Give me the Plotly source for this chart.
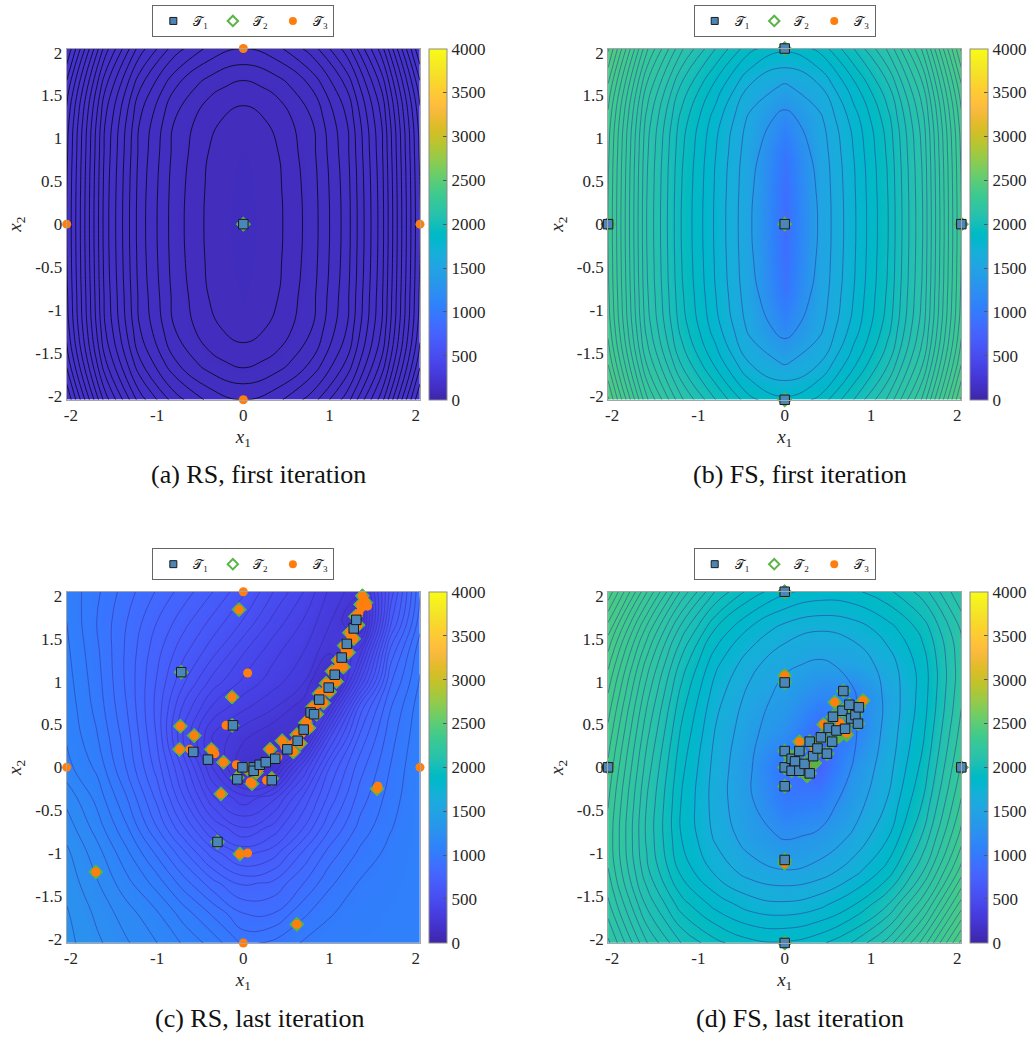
import plotly.graph_objects as go

# ---------------- data ----------------
# grid nodes (x1 and x2) for panels a, b, d
NODES11 = [-2.048, -1.6, -1.2, -0.8, -0.4, 0.0, 0.4, 0.8, 1.2, 1.6, 2.048]
# grid nodes for panel c
NODES13 = [-2.048, -1.7, -1.35, -1.0, -0.7, -0.35, 0.0, 0.35, 0.7, 1.0, 1.35, 1.7, 2.048]

# (a) RS first iteration: surface values (rows = x2 ascending, cols = x1 ascending)
Z_A = [
    [202, 168, 148, 136, 129, 126, 129, 136, 148, 168, 202],
    [192.4, 158.4, 138.4, 126.4, 119.4, 116.4, 119.4, 126.4, 138.4, 158.4, 192.4],
    [188, 154, 134, 122, 115, 112, 115, 122, 134, 154, 188],
    [186.8, 152.8, 132.8, 120.8, 113.8, 110.8, 113.8, 120.8, 132.8, 152.8, 186.8],
    [186.2, 152.2, 132.2, 120.2, 113.2, 110.2, 113.2, 120.2, 132.2, 152.2, 186.2],
    [186, 152, 132, 120, 113, 110, 113, 120, 132, 152, 186],
    [186.2, 152.2, 132.2, 120.2, 113.2, 110.2, 113.2, 120.2, 132.2, 152.2, 186.2],
    [186.8, 152.8, 132.8, 120.8, 113.8, 110.8, 113.8, 120.8, 132.8, 152.8, 186.8],
    [188, 154, 134, 122, 115, 112, 115, 122, 134, 154, 188],
    [192.4, 158.4, 138.4, 126.4, 119.4, 116.4, 119.4, 126.4, 138.4, 158.4, 192.4],
    [202, 168, 148, 136, 129, 126, 129, 136, 148, 168, 202],
]

# (b) FS first iteration: colour field and contour field
C_B = [
    [2450, 2280, 2150, 2000, 1920, 1870, 1920, 2000, 2150, 2280, 2450],
    [2380, 2200, 2050, 1850, 1650, 1500, 1650, 1850, 2050, 2200, 2380],
    [2350, 2150, 1980, 1800, 1550, 1150, 1550, 1800, 1980, 2150, 2350],
    [2340, 2150, 1970, 1780, 1500, 950, 1500, 1780, 1970, 2150, 2340],
    [2330, 2150, 1960, 1770, 1500, 880, 1500, 1770, 1960, 2150, 2330],
    [2330, 2150, 1960, 1770, 1500, 850, 1500, 1770, 1960, 2150, 2330],
    [2330, 2150, 1960, 1770, 1500, 880, 1500, 1770, 1960, 2150, 2330],
    [2340, 2150, 1970, 1780, 1500, 950, 1500, 1780, 1970, 2150, 2340],
    [2350, 2150, 1980, 1800, 1550, 1150, 1550, 1800, 1980, 2150, 2350],
    [2380, 2200, 2050, 1850, 1650, 1500, 1650, 1850, 2050, 2200, 2380],
    [2450, 2280, 2150, 2000, 1920, 1870, 1920, 2000, 2150, 2280, 2450],
]
L_B = [
    [25.2, 16.2, 11.2, 8.0, 5.25, 4.2, 5.25, 8.0, 11.2, 16.2, 25.2],
    [22.8, 13.8, 8.8, 5.6, 2.85, 1.8, 2.85, 5.6, 8.8, 13.8, 22.8],
    [21.6, 12.6, 7.6, 4.4, 1.65, 0.6, 1.65, 4.4, 7.6, 12.6, 21.6],
    [21.2, 12.2, 7.2, 4.0, 1.25, 0.2, 1.25, 4.0, 7.2, 12.2, 21.2],
    [21.05, 12.05, 7.05, 3.85, 1.1, 0.05, 1.1, 3.85, 7.05, 12.05, 21.05],
    [21.0, 12.0, 7.0, 3.8, 1.05, 0.0, 1.05, 3.8, 7.0, 12.0, 21.0],
    [21.05, 12.05, 7.05, 3.85, 1.1, 0.05, 1.1, 3.85, 7.05, 12.05, 21.05],
    [21.2, 12.2, 7.2, 4.0, 1.25, 0.2, 1.25, 4.0, 7.2, 12.2, 21.2],
    [21.6, 12.6, 7.6, 4.4, 1.65, 0.6, 1.65, 4.4, 7.6, 12.6, 21.6],
    [22.8, 13.8, 8.8, 5.6, 2.85, 1.8, 2.85, 5.6, 8.8, 13.8, 22.8],
    [25.2, 16.2, 11.2, 8.0, 5.25, 4.2, 5.25, 8.0, 11.2, 16.2, 25.2],
]

# (c) RS last iteration: surface values (13 x 13)
Z_C = [
    [1300, 1250, 1200, 1150, 1100, 1040, 960, 980, 1020, 1040, 1050, 1050, 1060],
    [1290, 1230, 1170, 1110, 1040, 960, 880, 880, 960, 1010, 1040, 1050, 1060],
    [1270, 1200, 1120, 1040, 950, 850, 780, 800, 880, 960, 1020, 1040, 1060],
    [1250, 1170, 1070, 960, 850, 720, 640, 680, 800, 900, 980, 1030, 1060],
    [1220, 1130, 1020, 880, 750, 600, 520, 580, 700, 830, 940, 1010, 1060],
    [1180, 1090, 970, 820, 660, 480, 400, 460, 620, 760, 900, 990, 1060],
    [1120, 1050, 920, 770, 600, 380, 200, 200, 480, 700, 860, 970, 1060],
    [1100, 1020, 900, 740, 520, 330, 260, 200, 220, 560, 800, 950, 1050],
    [1090, 1000, 880, 730, 560, 420, 350, 300, 220, 330, 720, 920, 1040],
    [1080, 990, 870, 740, 620, 500, 420, 360, 300, 120, 520, 870, 1020],
    [1070, 980, 870, 760, 670, 580, 480, 400, 340, 260, 360, 800, 1000],
    [1060, 970, 880, 790, 720, 640, 560, 460, 380, 300, 180, 680, 950],
    [1050, 980, 900, 830, 770, 700, 620, 520, 430, 330, 260, 620, 920],
]

# (d) FS last iteration: colour field and contour field
C_D = [
    [2180, 2100, 2020, 1950, 1900, 1870, 1900, 1980, 2120, 2280, 2420],
    [2200, 2080, 1950, 1830, 1740, 1700, 1760, 1880, 2050, 2230, 2400],
    [2240, 2080, 1900, 1720, 1580, 1500, 1560, 1700, 1900, 2150, 2380],
    [2280, 2100, 1880, 1650, 1420, 1250, 1350, 1560, 1800, 2080, 2350],
    [2310, 2120, 1880, 1620, 1380, 1000, 1050, 1420, 1700, 2000, 2320],
    [2340, 2150, 1900, 1640, 1350, 900, 750, 1300, 1650, 1950, 2300],
    [2360, 2170, 1930, 1680, 1430, 1250, 800, 1050, 1580, 1900, 2260],
    [2370, 2200, 1970, 1720, 1530, 1400, 1150, 1050, 1500, 1850, 2220],
    [2390, 2230, 2020, 1800, 1650, 1550, 1450, 1500, 1650, 1880, 2200],
    [2400, 2260, 2080, 1920, 1790, 1700, 1680, 1720, 1830, 1960, 2170],
    [2420, 2300, 2150, 2020, 1920, 1860, 1840, 1870, 1950, 2050, 2150],
]
L_D = [
    [18.26, 13.06, 9.99, 8.28, 7.29, 7.11, 7.72, 9.11, 11.44, 15.34, 21.33],
    [16.27, 10.80, 7.46, 5.63, 4.51, 4.19, 4.67, 5.94, 8.00, 11.65, 17.47],
    [15.02, 9.25, 5.68, 3.70, 2.46, 2.02, 2.38, 3.54, 5.41, 8.83, 14.42],
    [14.72, 8.80, 5.00, 2.78, 1.44, 0.88, 1.12, 2.16, 3.92, 7.10, 12.40],
    [15.07, 9.00, 4.98, 2.52, 1.07, 0.39, 0.51, 1.43, 3.09, 6.03, 11.10],
    [15.77, 9.55, 5.30, 2.60, 1.05, 0.25, 0.25, 1.05, 2.60, 5.30, 10.15],
    [16.67, 10.30, 5.83, 2.89, 1.23, 0.31, 0.19, 0.87, 2.32, 4.78, 9.40],
    [17.77, 11.25, 6.55, 3.37, 1.61, 0.57, 0.33, 0.89, 2.23, 4.45, 8.85],
    [19.22, 12.55, 7.63, 4.21, 2.34, 1.18, 0.82, 1.26, 2.50, 4.48, 8.65],
    [21.32, 14.60, 9.50, 5.85, 3.79, 2.52, 2.04, 2.36, 3.48, 5.31, 9.10],
    [24.80, 18.07, 12.81, 8.91, 6.58, 5.19, 4.58, 4.76, 5.75, 7.46, 10.95],
]

# sample sets T1, T2, T3 for each panel (x1, x2)
T1_A = [(0, 0)]
T2_A = [(0, 0)]
T3_A = [(0, 0), (-2.048, 0), (2.048, 0), (0, -2.048), (0, 2.048)]

T1_B = [(0, 0), (-2.048, 0), (2.048, 0), (0, -2.048), (0, 2.048)]
T2_B = [(0, 0), (-2.048, 0), (2.048, 0), (0, -2.048), (0, 2.048)]
T3_B = [(0, 0), (-2.048, 0), (2.048, 0), (0, -2.048), (0, 2.048)]

T1_C = [(-0.72, 1.11), (-0.12, 0.49), (-0.58, 0.18), (-0.41, 0.09), (-0.07, -0.14),
        (-0.01, 0.0), (0.12, 0.0), (0.12, -0.04), (0.19, 0.03), (0.26, 0.06),
        (0.37, 0.10), (0.33, -0.15), (0.51, 0.21), (0.63, 0.31), (0.70, 0.44),
        (0.78, 0.64), (0.82, 0.62), (0.88, 0.79), (0.99, 0.93), (1.06, 1.08),
        (1.14, 1.28), (1.20, 1.44), (1.28, 1.62), (1.31, 1.72), (-0.30, -0.87)]
T2_C = [(-0.05, 1.84), (-0.13, 0.82), (-0.73, 0.48), (-0.57, 0.37), (-0.74, 0.21),
        (-0.37, 0.21), (-0.23, 0.06), (-0.26, -0.31), (1.55, -0.25), (-0.04, -1.01),
        (-1.71, -1.22), (0.62, -1.83), (-0.72, 1.11), (-0.30, -0.87), (-0.13, 0.49),
        (-0.07, -0.12), (0.05, -0.02), (0.15, -0.06), (0.33, -0.13), (0.10, -0.19),
        (0.31, 0.21), (0.45, 0.31), (0.58, 0.18), (0.62, 0.38), (0.66, 0.28),
        (0.72, 0.52), (0.76, 0.46), (0.80, 0.70), (0.85, 0.62), (0.88, 0.86),
        (0.93, 0.75), (0.96, 0.98), (1.00, 0.88), (1.03, 1.12), (1.08, 1.00),
        (1.10, 1.25), (1.16, 1.17), (1.17, 1.42), (1.22, 1.34), (1.23, 1.57),
        (1.28, 1.50), (1.30, 1.76), (1.33, 1.66), (1.36, 1.90), (1.38, 2.00),
        (1.42, 1.92)]
T3_C = T2_C + [(0, 2.048), (0.05, 1.10), (-2.048, 0), (2.048, 0), (0, -2.048),
               (-0.20, 0.49), (0.05, -1.00), (-0.62, 0.21), (-0.33, 0.16), (-0.08, 0.03),
               (0.08, -0.17), (0.27, -0.15), (1.56, -0.22), (0.20, 0.0), (0.40, 0.12),
               (0.48, 0.24), (0.55, 0.26), (0.60, 0.30), (0.68, 0.40), (0.74, 0.55),
               (0.82, 0.68), (0.86, 0.74), (0.90, 0.82), (0.95, 0.90), (1.00, 0.98),
               (1.05, 1.06), (1.09, 1.16), (1.13, 1.24), (1.18, 1.36), (1.21, 1.44),
               (1.25, 1.52), (1.27, 1.60), (1.31, 1.68), (1.34, 1.80), (1.37, 1.86),
               (1.40, 1.96), (1.44, 1.88)]

T1_D = [(0, 2.048), (0, 0.99), (0, -1.08), (0, -2.048), (-2.048, 0), (2.048, 0),
        (0, -0.22), (0, 0.19), (0, 0), (0.08, 0.10), (0.12, 0.07), (0.17, 0.19),
        (0.08, -0.04), (0.17, -0.04), (0.23, 0.04), (0.29, -0.07), (0.29, 0.30),
        (0.33, 0.13), (0.38, 0.22), (0.42, 0.35), (0.49, 0.16), (0.51, 0.46),
        (0.55, 0.30), (0.56, 0.59), (0.60, 0.43), (0.67, 0.66), (0.68, 0.89),
        (0.70, 0.45), (0.75, 0.73), (0.77, 0.57), (0.82, 0.61), (0.85, 0.51),
        (0.86, 0.70)]
T2_D = T1_D + [(0, 1.07), (0.17, 0.30), (0.58, 0.76), (0.45, 0.50), (0.91, 0.78),
               (0.26, -0.10), (0.35, 0.05), (0.63, 0.36), (0.72, 0.38), (0, -1.12)]
T3_D = T1_D + [(0, 1.07), (0.17, 0.30), (0.58, 0.76), (0.45, 0.50), (0.91, 0.78),
               (0.35, 0.20), (0.25, 0.02), (0.12, -0.02), (0.64, 0.52), (0.72, 0.40),
               (0.82, 0.55), (0, -1.12)]

X_TICKS = [-2, -1, 0, 1, 2]
X_TICKTEXT = ["-2", "-1", "0", "1", "2"]
Y_TICKS = [-2, -1.5, -1, -0.5, 0, 0.5, 1, 1.5, 2]
Y_TICKTEXT = ["-2", "-1.5", "-1", "-0.5", "0", "0.5", "1", "1.5", "2"]
CB_TICKS = [0, 500, 1000, 1500, 2000, 2500, 3000, 3500, 4000]
CAPTIONS = ["(a) RS, first iteration", "(b) FS, first iteration",
            "(c) RS, last iteration", "(d) FS, last iteration"]
SET_NAMES = ["𝒯<sub>1</sub>", "𝒯<sub>2</sub>", "𝒯<sub>3</sub>"]

# ---------------- style ----------------
PARULA = [
    (0.2422, 0.1504, 0.6603), (0.2504, 0.1650, 0.7076), (0.2578, 0.1818, 0.7511),
    (0.2647, 0.1978, 0.7952), (0.2706, 0.2147, 0.8364), (0.2751, 0.2342, 0.8710),
    (0.2783, 0.2559, 0.8991), (0.2803, 0.2782, 0.9221), (0.2813, 0.3006, 0.9414),
    (0.2810, 0.3228, 0.9579), (0.2795, 0.3447, 0.9717), (0.2760, 0.3667, 0.9829),
    (0.2699, 0.3892, 0.9906), (0.2602, 0.4123, 0.9952), (0.2440, 0.4358, 0.9988),
    (0.2206, 0.4603, 0.9973), (0.1963, 0.4847, 0.9892), (0.1834, 0.5074, 0.9798),
    (0.1786, 0.5289, 0.9682), (0.1764, 0.5499, 0.9520), (0.1687, 0.5703, 0.9359),
    (0.1540, 0.5902, 0.9218), (0.1460, 0.6091, 0.9079), (0.1380, 0.6276, 0.8973),
    (0.1248, 0.6459, 0.8883), (0.1113, 0.6635, 0.8763), (0.0952, 0.6798, 0.8598),
    (0.0689, 0.6948, 0.8394), (0.0297, 0.7082, 0.8163), (0.0036, 0.7203, 0.7917),
    (0.0067, 0.7312, 0.7660), (0.0433, 0.7411, 0.7394), (0.0964, 0.7500, 0.7120),
    (0.1408, 0.7584, 0.6842), (0.1717, 0.7670, 0.6554), (0.1938, 0.7758, 0.6251),
    (0.2161, 0.7843, 0.5923), (0.2470, 0.7918, 0.5567), (0.2906, 0.7973, 0.5188),
    (0.3406, 0.8008, 0.4789), (0.3909, 0.8029, 0.4354), (0.4456, 0.8024, 0.3909),
    (0.5044, 0.7993, 0.3480), (0.5616, 0.7942, 0.3045), (0.6174, 0.7876, 0.2612),
    (0.6720, 0.7793, 0.2227), (0.7242, 0.7698, 0.1910), (0.7738, 0.7598, 0.1646),
    (0.8203, 0.7498, 0.1535), (0.8634, 0.7406, 0.1596), (0.9035, 0.7330, 0.1774),
    (0.9393, 0.7288, 0.2100), (0.9728, 0.7298, 0.2394), (0.9956, 0.7434, 0.2371),
    (0.9970, 0.7659, 0.2199), (0.9952, 0.7893, 0.2028), (0.9892, 0.8136, 0.1885),
    (0.9786, 0.8386, 0.1766), (0.9676, 0.8639, 0.1643), (0.9610, 0.8890, 0.1537),
    (0.9597, 0.9135, 0.1423), (0.9628, 0.9373, 0.1265), (0.9691, 0.9606, 0.1060),
    (0.9769, 0.9839, 0.0805),
]
COLORSCALE = [[i / (len(PARULA) - 1),
               "rgb(%d,%d,%d)" % (round(r * 255), round(g * 255), round(b * 255))]
              for i, (r, g, b) in enumerate(PARULA)]

SERIF = "Liberation Serif, DejaVu Serif, serif"
W, H = 1032, 1040
C_SQ = "#4A86B8"
C_DI = "#5AB346"
C_OR = "#FF7F0E"
LINE_SOFT = "rgba(55,35,150,0.6)"
LINE_DARK = "rgba(0,0,0,0.9)"

# panel boxes in pixels: left, right, top, bottom
PANELS = [(64, 419, 44, 399), (608, 963, 44, 399),
          (64, 419, 593, 948), (608, 963, 593, 948)]
CB_LEFT = [428, 972, 428, 972]
LEGEND_TOP = [0, 0, 549, 549]
CAPTION_POS = [(257, 475), (801, 475), (258, 1024), (801, 1024)]

fig = go.Figure()


def axes_ids(k):
    return ("x" if k == 0 else "x%d" % (k + 1)), ("y" if k == 0 else "y%d" % (k + 1))


def colorbar(k):
    l, r, t, b = PANELS[k]
    return dict(x=CB_LEFT[k] / W, xanchor="left", y=1 - (t + b) / 2 / H, yanchor="middle",
                len=(b - t) / H, lenmode="fraction", thickness=18,
                outlinewidth=1, outlinecolor="#8c8c8c", tickvals=CB_TICKS,
                ticks="inside", ticklen=4, tickcolor="#555555",
                tickfont=dict(family=SERIF, size=17, color="#262626"), xpad=0, ypad=0)


def add_field(k, nodes, zcol, zlin, start, end, size, lcolor):
    xa, ya = axes_ids(k)
    fig.add_trace(go.Heatmap(x=nodes, y=nodes, z=zcol, colorscale=COLORSCALE, zmin=0,
                             zmax=4000, zsmooth="best", colorbar=colorbar(k),
                             hoverinfo="skip", showlegend=False, xaxis=xa, yaxis=ya))
    fig.add_trace(go.Contour(x=nodes, y=nodes, z=zlin, autocontour=False,
                             contours=dict(start=start, end=end, size=size, coloring="none"),
                             line=dict(color=lcolor, width=0.8, smoothing=1.3),
                             showscale=False, showlegend=False, hoverinfo="skip",
                             xaxis=xa, yaxis=ya))


def add_samples(k, t1, t2, t3):
    xa, ya = axes_ids(k)
    fig.add_trace(go.Scatter(x=[p[0] for p in t2], y=[p[1] for p in t2], mode="markers",
                             marker=dict(symbol="diamond", size=11, color=C_DI,
                                         line=dict(color=C_DI, width=1)),
                             xaxis=xa, yaxis=ya, showlegend=False, hoverinfo="skip",
                             cliponaxis=False))
    fig.add_trace(go.Scatter(x=[p[0] for p in t3], y=[p[1] for p in t3], mode="markers",
                             marker=dict(symbol="circle", size=9, color=C_OR,
                                         line=dict(width=0)),
                             xaxis=xa, yaxis=ya, showlegend=False, hoverinfo="skip",
                             cliponaxis=False))
    fig.add_trace(go.Scatter(x=[p[0] for p in t1], y=[p[1] for p in t1], mode="markers",
                             marker=dict(symbol="square", size=9.5, color=C_SQ,
                                         line=dict(color="#1a1a1a", width=1)),
                             xaxis=xa, yaxis=ya, showlegend=False, hoverinfo="skip",
                             cliponaxis=False))
    lg = "legend" if k == 0 else "legend%d" % (k + 1)
    styles = [dict(symbol="square", size=7, color=C_SQ, line=dict(color="#1a1a1a", width=1)),
              dict(symbol="diamond", size=8, color="white", line=dict(color=C_DI, width=2)),
              dict(symbol="circle", size=8, color=C_OR, line=dict(width=0))]
    for name, st in zip(SET_NAMES, styles):
        fig.add_trace(go.Scatter(x=[None], y=[None], mode="markers", marker=st, name=name,
                                 xaxis=xa, yaxis=ya, legend=lg, showlegend=True))


add_field(0, NODES11, Z_A, Z_A, 114, 202, 4, LINE_DARK)
add_samples(0, T1_A, T2_A, T3_A)
add_field(1, NODES11, C_B, L_B, 1, 25, 1, LINE_SOFT)
add_samples(1, T1_B, T2_B, T3_B)
add_field(2, NODES13, Z_C, Z_C, 250, 1300, 45, LINE_SOFT)
add_samples(2, T1_C, T2_C, T3_C)
add_field(3, NODES11, C_D, L_D, 1, 25, 1, LINE_SOFT)
add_samples(3, T1_D, T2_D, T3_D)

layout = dict(width=W, height=H, margin=dict(l=0, r=0, t=0, b=0),
              paper_bgcolor="white", plot_bgcolor="white", showlegend=True,
              font=dict(family=SERIF, color="#262626"))
tickfont = dict(family=SERIF, size=17, color="#262626")
titlefont = dict(family=SERIF, size=19, color="#262626")
for k, (l, r, t, b) in enumerate(PANELS):
    xa, ya = axes_ids(k)
    xkey = "xaxis" if k == 0 else "xaxis%d" % (k + 1)
    ykey = "yaxis" if k == 0 else "yaxis%d" % (k + 1)
    layout[xkey] = dict(domain=[l / W, r / W], range=[-2.048, 2.048], anchor=ya,
                        tickvals=X_TICKS, ticktext=X_TICKTEXT, ticks="", showgrid=False,
                        zeroline=False, showline=True, mirror=True, linecolor="#a6a6a6",
                        linewidth=1, tickfont=tickfont,
                        title=dict(text="<i>x</i><sub>1</sub>", font=titlefont, standoff=5))
    layout[ykey] = dict(domain=[1 - b / H, 1 - t / H], range=[-2.048, 2.048], anchor=xa,
                        tickvals=Y_TICKS, ticktext=Y_TICKTEXT, ticks="", showgrid=False,
                        zeroline=False, showline=True, mirror=True, linecolor="#a6a6a6",
                        linewidth=1, tickfont=tickfont,
                        title=dict(text="<i>x</i><sub>2</sub>", font=titlefont, standoff=8))
    lkey = "legend" if k == 0 else "legend%d" % (k + 1)
    layout[lkey] = dict(orientation="h", x=(l + r) / 2 / W, xanchor="center",
                        y=1 - LEGEND_TOP[k] / H, yanchor="top", bgcolor="white",
                        bordercolor="#666666", borderwidth=1,
                        font=dict(family=SERIF, size=13, color="#1a1a1a"),
                        itemwidth=30, tracegroupgap=0)

annotations = []
for (cx, cy), text in zip(CAPTION_POS, CAPTIONS):
    annotations.append(dict(x=cx / W, y=1 - cy / H, xref="paper", yref="paper", text=text,
                            showarrow=False, xanchor="center", yanchor="middle",
                            font=dict(family=SERIF, size=26, color="#111111")))
layout["annotations"] = annotations
fig.update_layout(**layout)

fig.write_html("out.html")
